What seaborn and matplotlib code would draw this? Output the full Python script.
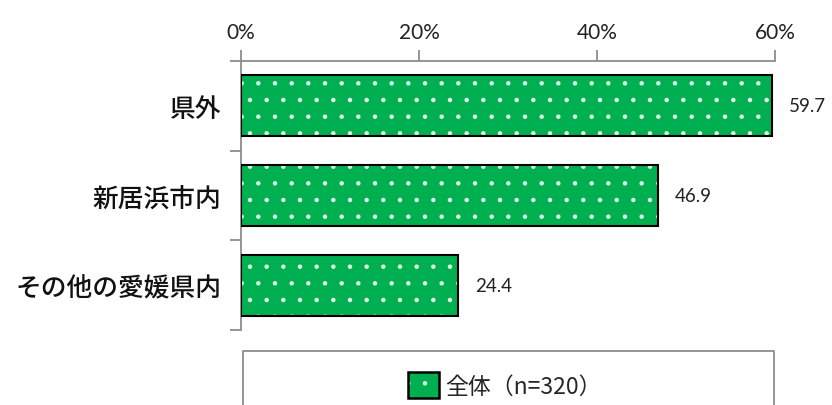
import matplotlib
matplotlib.use("Agg")
import matplotlib.pyplot as plt
import seaborn as sns
import pandas as pd
from matplotlib.patches import Rectangle, Patch

categories = ["県外", "新居浜市内", "その他の愛媛県内"]
values = [59.7, 46.9, 24.4]
series_name = "全体（n=320）"
xticks = [0, 20, 40, 60]
xtick_labels = ["0%", "20%", "40%", "60%"]

sns.set_theme(style="white")
plt.rcParams['font.family'] = ['Noto Sans CJK JP', 'DejaVu Sans']
plt.rcParams['hatch.linewidth'] = 0.8

GREEN = "#00B050"
GRAY = "#8C8C8C"

df = pd.DataFrame({"cat": categories, "val": values})

fig = plt.figure(figsize=(8.32, 4.06), dpi=100)
ax = fig.add_axes([241/832, 1-331/406, (775-241)/832, (331-62)/406])

sns.barplot(data=df, x="val", y="cat", color=GREEN, width=0.68, ax=ax,
            saturation=1, orient="h")

for p in ax.patches:
    p.set_facecolor(GREEN)
    p.set_edgecolor("#DDF5E6")
    p.set_hatch(".")
    p.set_linewidth(0)
    ax.add_patch(Rectangle(p.get_xy(), p.get_width(), p.get_height(),
                           fill=False, edgecolor="black", linewidth=1.5, zorder=3))

ax.bar_label(ax.containers[0], fmt="%.1f", padding=12, fontsize=13.5,
             family=['Lato', 'DejaVu Sans'], color="#222222")

ax.set_xlim(0, 60)
ax.set_ylim(2.5, -0.5)
ax.xaxis.tick_top()
ax.set_xticks(xticks)
ax.set_xticklabels(xtick_labels, fontsize=15, family=['Lato', 'DejaVu Sans'], color="#222222")
ax.tick_params(axis='x', which='major', direction='out', length=8, color=GRAY, width=1.3, pad=6)

ax.set_yticks([0, 1, 2])
ax.set_yticklabels(categories, fontsize=18.5, fontweight=500, color="#111111")
ax.set_yticks([-0.5, 0.5, 1.5, 2.5], minor=True)
ax.tick_params(axis='y', which='major', length=0, pad=14)
ax.tick_params(axis='y', which='minor', direction='out', length=8, color=GRAY, width=1.3, left=True)

ax.set_xlabel("")
ax.set_ylabel("")
ax.grid(False)
for s in ["bottom", "right"]:
    ax.spines[s].set_visible(False)
for s in ["top", "left"]:
    ax.spines[s].set_color(GRAY)
    ax.spines[s].set_linewidth(1.3)

# legend frame (extends beyond figure bottom)
fx0, fx1 = 243/832, 774/832
fy1 = 1 - 352/406
frame = plt.Line2D([fx0, fx0, fx1, fx1], [-0.05, fy1, fy1, -0.05],
                   transform=fig.transFigure, color=GRAY, linewidth=1.3)
fig.add_artist(frame)

handle = Patch(facecolor=GREEN, edgecolor="#DDF5E6", hatch=".", linewidth=0)
leg = fig.legend([handle], [series_name], loc="center", bbox_to_anchor=(505/832, 1-386/406),
                 frameon=False, fontsize=16.5, handlelength=1.35, handleheight=1.35,
                 handletextpad=0.3, borderpad=0)
for h in leg.legend_handles:
    h.set_hatch(".")
leg_patch = leg.get_patches()[0]

fig.canvas.draw()
bb = leg_patch.get_window_extent()
fig.add_artist(Rectangle((bb.x0/fig.bbox.width, bb.y0/fig.bbox.height),
                         bb.width/fig.bbox.width, bb.height/fig.bbox.height,
                         transform=fig.transFigure, fill=False, edgecolor="black",
                         linewidth=1.8, zorder=10))

fig.savefig("out.png", dpi=100)
